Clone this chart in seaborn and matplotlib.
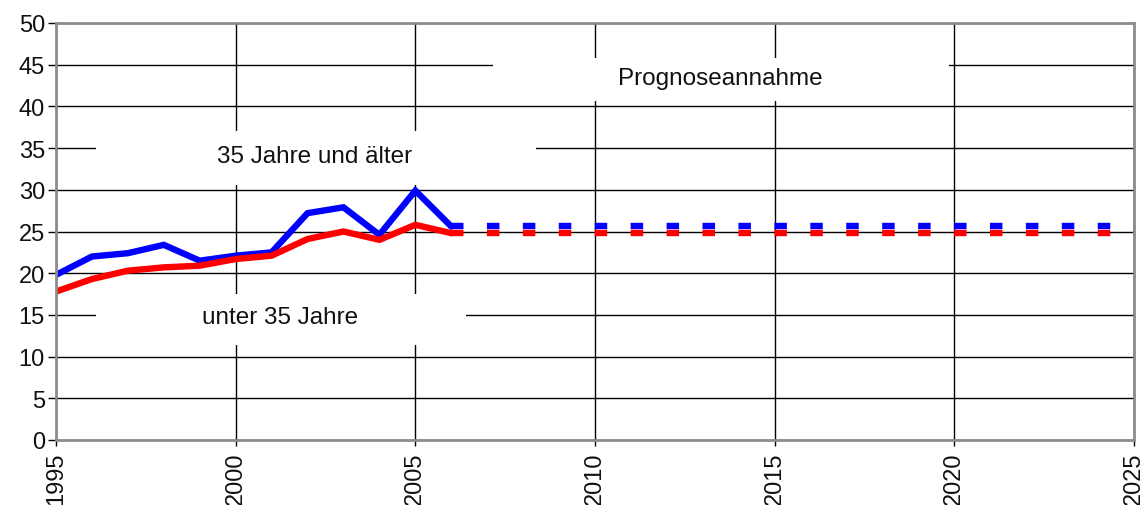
import matplotlib
matplotlib.use("Agg")
import matplotlib.pyplot as plt
import seaborn as sns
import pandas as pd
from matplotlib.patches import Rectangle

# Observed values
years = [1995, 1996, 1997, 1998, 1999, 2000, 2001, 2002, 2003, 2004, 2005, 2006]
age_35_plus = [19.8, 22.0, 22.4, 23.4, 21.5, 22.1, 22.5, 27.2, 27.9, 24.6, 29.9, 25.6]
under_35 = [17.8, 19.3, 20.3, 20.7, 20.9, 21.7, 22.1, 24.1, 25.0, 24.0, 25.8, 24.8]

# Forecast assumption
forecast_years = [2006, 2007, 2008, 2009, 2010, 2011, 2012, 2013, 2014, 2015,
                  2016, 2017, 2018, 2019, 2020, 2021, 2022, 2023, 2024, 2025]
forecast_35_plus = [25.6, 25.6, 25.6, 25.6, 25.6, 25.6, 25.6, 25.6, 25.6, 25.6,
                    25.6, 25.6, 25.6, 25.6, 25.6, 25.6, 25.6, 25.6, 25.6, 25.6]
forecast_under_35 = [24.8, 24.8, 24.8, 24.8, 24.8, 24.8, 24.8, 24.8, 24.8, 24.8,
                     24.8, 24.8, 24.8, 24.8, 24.8, 24.8, 24.8, 24.8, 24.8, 24.8]

x_ticks = [1995, 2000, 2005, 2010, 2015, 2020, 2025]
y_ticks = [0, 5, 10, 15, 20, 25, 30, 35, 40, 45, 50]

label_forecast = "Prognoseannahme"
label_old = "35 Jahre und älter"
label_young = "unter 35 Jahre"

sns.set_style("white")
plt.rcParams["font.family"] = ["Liberation Sans", "DejaVu Sans"]
plt.rcParams["lines.scale_dashes"] = False

hist = pd.DataFrame({"Jahr": years, "alt": age_35_plus, "jung": under_35})
prog = pd.DataFrame({"Jahr": forecast_years, "alt": forecast_35_plus,
                     "jung": forecast_under_35})

fig = plt.figure(figsize=(11.44, 5.06), dpi=100)
ax = fig.add_axes([56 / 1144, 1 - 441 / 506, (1134 - 56) / 1144, (441 - 24) / 506])

BLUE = "#0000ff"
RED = "#ff0000"
LW = 4.6
DASH = (0, (9.0, 16.87))

# White label backgrounds that hide the grid behind the texts
for (x0, x1, y0, y1) in [(2007.15, 2019.85, 40.7, 45.8),
                         (1996.1, 2008.35, 30.6, 37.0),
                         (1996.1, 2006.4, 11.4, 17.5)]:
    ax.add_patch(Rectangle((x0, y0), x1 - x0, y1 - y0, facecolor="white",
                           edgecolor="none", zorder=1.5))

sns.lineplot(data=hist, x="Jahr", y="alt", color=BLUE, linewidth=LW, ax=ax,
             zorder=3, solid_joinstyle="miter")
sns.lineplot(data=hist, x="Jahr", y="jung", color=RED, linewidth=LW, ax=ax,
             zorder=3.1, solid_joinstyle="miter")
sns.lineplot(data=prog, x="Jahr", y="alt", color=BLUE, linewidth=LW, ax=ax,
             zorder=3, linestyle=DASH, dash_capstyle="butt")
sns.lineplot(data=prog, x="Jahr", y="jung", color=RED, linewidth=LW, ax=ax,
             zorder=3.1, linestyle=DASH, dash_capstyle="butt")

ax.set_xlim(1995, 2025)
ax.set_ylim(0, 50)
ax.set_xticks(x_ticks)
ax.set_yticks(y_ticks)
ax.set_xticklabels([str(t) for t in x_ticks], rotation=90)
ax.set_xlabel("")
ax.set_ylabel("")

ax.grid(True, color="black", linewidth=1.0, zorder=1)
ax.set_axisbelow(True)
for s in ax.spines.values():
    s.set_visible(True)
    s.set_color("#8c8c8c")
    s.set_linewidth(2.0)
    s.set_zorder(4)

ax.tick_params(axis="y", direction="out", length=6, width=1, color="black",
               labelsize=17, pad=2, left=True, labelcolor="#111111")
ax.tick_params(axis="x", direction="out", length=4, width=1, color="black",
               labelsize=17, pad=4, bottom=True, labelcolor="#111111")

txt_kw = dict(ha="center", va="center", fontsize=17.5, color="#111111", zorder=2)
ax.text(2013.48, 43.4, label_forecast, **txt_kw)
ax.text(2002.19, 34.0, label_old, **txt_kw)
ax.text(2001.23, 14.8, label_young, **txt_kw)

fig.savefig("out.png", dpi=100)
